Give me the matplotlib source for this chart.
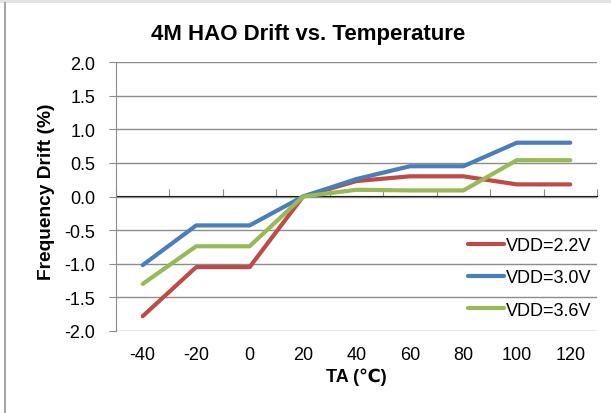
import matplotlib; matplotlib.use("Agg")
import matplotlib.pyplot as plt
from matplotlib.lines import Line2D
from matplotlib.patches import Rectangle
import numpy as np

plt.rcParams['font.family'] = ['Liberation Sans', 'DejaVu Sans']

temps = ["-40", "-20", "0", "20", "40", "60", "80", "100", "120"]
vdd_22 = [-1.78, -1.05, -1.05, 0.0, 0.23, 0.30, 0.30, 0.18, 0.18]
vdd_30 = [-1.02, -0.43, -0.43, 0.0, 0.26, 0.45, 0.45, 0.80, 0.80]
vdd_36 = [-1.30, -0.74, -0.74, 0.0, 0.10, 0.09, 0.09, 0.54, 0.54]
series = [("VDD=2.2V", vdd_22, "#BE4B48"),
          ("VDD=3.0V", vdd_30, "#4A7EBB"),
          ("VDD=3.6V", vdd_36, "#98B954")]

W, H = 611, 414
fig = plt.figure(figsize=(W/100, H/100), dpi=100, facecolor="white")
# chart-area frame (top strip + left edge)
fig.patches.append(Rectangle((0, 1-4/H), 1, 4/H, transform=fig.transFigure,
                             facecolor="#E3E3E3", edgecolor="none", zorder=0))
fig.lines.append(Line2D([4.5/W, 4.5/W], [0, 1-4/H], transform=fig.transFigure,
                        color="#A6A6A6", lw=1.5))

ax = fig.add_axes([116/W, (H-332)/H, (597-116)/W, (332-63)/H])
x = np.arange(len(temps))
for name, vals, col in series:
    ax.plot(x, vals, color=col, lw=3, solid_capstyle="round", label=name, zorder=3)

ax.set_xlim(-0.5, len(temps)-0.5)
ax.set_ylim(-2.0, 2.0)
yt = np.arange(-2.0, 2.01, 0.5)
ax.set_yticks(yt)
ax.set_yticklabels([f"{v:.1f}" for v in yt], fontsize=13)
for v in yt:
    ax.axhline(v, color="#8C8C8C", lw=1, zorder=1)
for s in ["top", "right", "bottom"]:
    ax.spines[s].set_visible(False)
ax.spines["left"].set_color("#8C8C8C")
ax.tick_params(axis="y", direction="out", length=5, color="#8C8C8C", pad=10)
ax.set_xticks(x)
ax.set_xticklabels(temps, fontsize=13)
ax.tick_params(axis="x", length=0, pad=11)

# category axis crossing at zero, tick marks between categories
sec = ax.secondary_xaxis(0.5)
sec.set_xticks(np.arange(-0.5, len(temps), 1.0))
sec.set_xticklabels([])
sec.tick_params(direction="out", length=5, color="#8C8C8C")
sec.spines["bottom"].set_color("#8C8C8C")

ax.set_title("4M HAO Drift vs. Temperature", fontsize=16, fontweight="bold", pad=16.5, x=0.40)
ax.set_xlabel("TA (℃)", fontsize=13, fontweight="bold", labelpad=3)
ax.set_ylabel("Frequency Drift (%)", fontsize=13.8, fontweight="bold")
ax.yaxis.set_label_coords(-0.127, 0.522)

ax.legend(loc="lower right", bbox_to_anchor=(1.022, -0.015), frameon=False, fontsize=13,
          handlelength=2.0, handletextpad=0.1, labelspacing=0.85, borderaxespad=0.5)

fig.savefig("out.png", dpi=100, facecolor="white")
